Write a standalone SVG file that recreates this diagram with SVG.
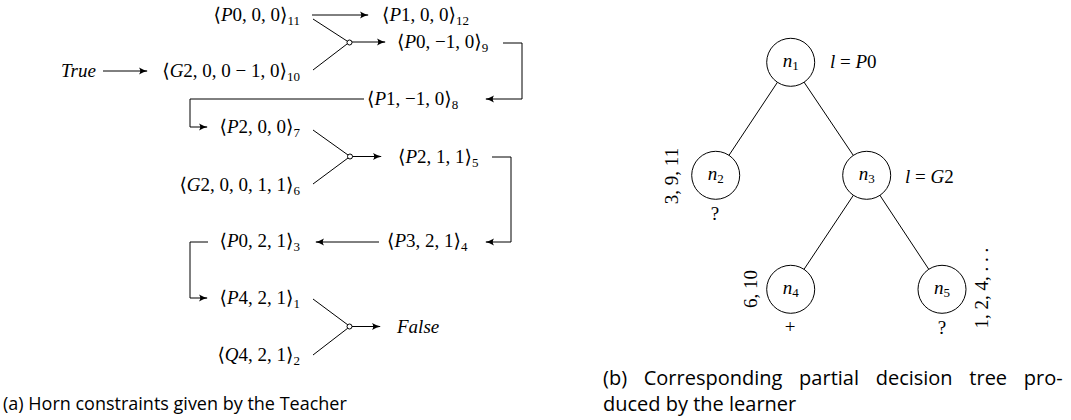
<svg xmlns="http://www.w3.org/2000/svg" width="1071" height="420" viewBox="0 0 1071 420">
<style>
.m{font-family:"Liberation Serif","DejaVu Serif",serif;font-size:19px;fill:#000}
.i{font-style:italic}
.s{font-size:13px}
.cap{font-family:"Open Sans","Noto Sans","Liberation Sans",sans-serif;font-size:18px;fill:#000}
.capb{font-size:20px}
.ln{fill:none;stroke:#000;stroke-width:1}
.node{fill:#fff;stroke:#000;stroke-width:1}
</style>
<defs>
<marker id="ah" viewBox="0 0 10 10" refX="9" refY="5" markerWidth="9" markerHeight="9" markerUnits="userSpaceOnUse" orient="auto">
<path d="M0,1 Q5,4 10,5 Q5,6 0,9 Q3,5 0,1 Z" fill="#000"/>
</marker>
</defs>
<g id="connectors">
<line class="ln" x1="312" y1="15" x2="368" y2="15" marker-end="url(#ah)"/>
<line class="ln" x1="313" y1="19" x2="347" y2="41"/>
<line class="ln" x1="313" y1="70" x2="347" y2="44"/>
<line class="ln" x1="352" y1="42" x2="385" y2="42" marker-end="url(#ah)"/>
<circle class="node" cx="349.5" cy="42.5" r="2.5"/>
<line class="ln" x1="103" y1="71" x2="147" y2="71" marker-end="url(#ah)"/>
<polyline class="ln" points="503,43 522,43 522,99 486,99" marker-end="url(#ah)"/>
<polyline class="ln" points="364,99 190,99 190,127 207,127" marker-end="url(#ah)"/>
<line class="ln" x1="313" y1="130" x2="348" y2="155"/>
<line class="ln" x1="313" y1="184" x2="348" y2="158"/>
<circle class="node" cx="350" cy="156.5" r="2.5"/>
<line class="ln" x1="352.5" y1="156.5" x2="381" y2="156.5" marker-end="url(#ah)"/>
<polyline class="ln" points="492,157 511,157 511,242 486,242" marker-end="url(#ah)"/>
<line class="ln" x1="379" y1="242" x2="316" y2="242" marker-end="url(#ah)"/>
<polyline class="ln" points="208,242 190,242 190,298 207,298" marker-end="url(#ah)"/>
<line class="ln" x1="313" y1="299" x2="348" y2="325"/>
<line class="ln" x1="313" y1="355" x2="348" y2="328"/>
<circle class="node" cx="349.5" cy="326.5" r="2.5"/>
<line class="ln" x1="352" y1="326.5" x2="380" y2="326.5" marker-end="url(#ah)"/>
<line class="ln" x1="790.7" y1="62.3" x2="715.7" y2="175.3"/>
<line class="ln" x1="790.7" y1="62.3" x2="866.7" y2="175.3"/>
<line class="ln" x1="866.7" y1="175.3" x2="790.7" y2="289.3"/>
<line class="ln" x1="866.7" y1="175.3" x2="942" y2="289.3"/>
</g>
<g id="c11"><text class="m" x="300" y="21" text-anchor="end">⟨<tspan class="i">P</tspan>0, 0, 0⟩<tspan class="s" dy="4">11</tspan></text></g>
<g id="c12"><text class="m" x="382" y="21">⟨<tspan class="i">P</tspan>1, 0, 0⟩<tspan class="s" dy="4">12</tspan></text></g>
<g id="c9"><text class="m" x="397" y="48">⟨<tspan class="i">P</tspan>0, −1, 0⟩<tspan class="s" dy="4">9</tspan></text></g>
<g id="true"><text class="m i" x="61" y="77">True</text></g>
<g id="c10"><text class="m" x="300" y="77" text-anchor="end">⟨<tspan class="i">G</tspan>2, 0, 0 − 1, 0⟩<tspan class="s" dy="4">10</tspan></text></g>
<g id="c8"><text class="m" x="367" y="105">⟨<tspan class="i">P</tspan>1, −1, 0⟩<tspan class="s" dy="4">8</tspan></text></g>
<g id="c7"><text class="m" x="300" y="133" text-anchor="end">⟨<tspan class="i">P</tspan>2, 0, 0⟩<tspan class="s" dy="4">7</tspan></text></g>
<g id="c5"><text class="m" x="398" y="163">⟨<tspan class="i">P</tspan>2, 1, 1⟩<tspan class="s" dy="4">5</tspan></text></g>
<g id="c6"><text class="m" x="300" y="191" text-anchor="end">⟨<tspan class="i">G</tspan>2, 0, 0, 1, 1⟩<tspan class="s" dy="4">6</tspan></text></g>
<g id="c3"><text class="m" x="300" y="247" text-anchor="end">⟨<tspan class="i">P</tspan>0, 2, 1⟩<tspan class="s" dy="4">3</tspan></text></g>
<g id="c4"><text class="m" x="387" y="247">⟨<tspan class="i">P</tspan>3, 2, 1⟩<tspan class="s" dy="4">4</tspan></text></g>
<g id="c1"><text class="m" x="300" y="304" text-anchor="end">⟨<tspan class="i">P</tspan>4, 2, 1⟩<tspan class="s" dy="4">1</tspan></text></g>
<g id="false"><text class="m i" x="397" y="333">False</text></g>
<g id="c2"><text class="m" x="300" y="361" text-anchor="end">⟨<tspan class="i">Q</tspan>4, 2, 1⟩<tspan class="s" dy="4">2</tspan></text></g>
<g id="capA"><text class="cap" x="3" y="410">(a) Horn constraints given by the Teacher</text></g>
<g id="n1"><circle class="node" cx="790.7" cy="62.3" r="24"/><text class="m" x="790.7" y="67" text-anchor="middle"><tspan class="i">n</tspan><tspan class="s" dy="3">1</tspan></text><text class="m" x="830" y="68"><tspan class="i">l</tspan> = <tspan class="i">P</tspan>0</text></g>
<g id="n2"><circle class="node" cx="715.7" cy="175.3" r="24"/><text class="m" x="715.7" y="180" text-anchor="middle"><tspan class="i">n</tspan><tspan class="s" dy="3">2</tspan></text><text class="m" x="0" y="0" text-anchor="middle" transform="translate(678,176) rotate(-90)">3, 9, 11</text><text class="m" x="715" y="220" text-anchor="middle">?</text></g>
<g id="n3"><circle class="node" cx="866.7" cy="175.3" r="24"/><text class="m" x="866.7" y="180" text-anchor="middle"><tspan class="i">n</tspan><tspan class="s" dy="3">3</tspan></text><text class="m" x="905" y="183"><tspan class="i">l</tspan> = <tspan class="i">G</tspan>2</text></g>
<g id="n4"><circle class="node" cx="790.7" cy="289.3" r="24"/><text class="m" x="790.7" y="294" text-anchor="middle"><tspan class="i">n</tspan><tspan class="s" dy="3">4</tspan></text><text class="m" x="0" y="0" text-anchor="middle" transform="translate(757,289) rotate(-90)">6, 10</text><text class="m" x="790" y="333" text-anchor="middle">+</text></g>
<g id="n5"><circle class="node" cx="942" cy="289.3" r="24"/><text class="m" x="942" y="294" text-anchor="middle"><tspan class="i">n</tspan><tspan class="s" dy="3">5</tspan></text><text class="m" x="0" y="0" text-anchor="middle" transform="translate(988,288) rotate(-90)">1, 2, 4, . . .</text><text class="m" x="942" y="334" text-anchor="middle">?</text></g>
<g id="capB"><text class="cap capb" x="603" y="385" word-spacing="11.5">(b) Corresponding partial decision tree pro-</text><text class="cap capb" x="603" y="411">duced by the learner</text></g>
</svg>
